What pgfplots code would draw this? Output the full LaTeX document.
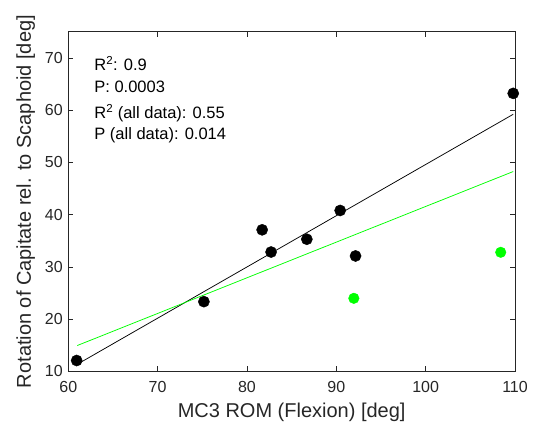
\documentclass[border=0pt]{standalone}
\usepackage{pgfplots}
\pgfplotsset{compat=1.18}
\usepackage{fontspec}
\setmainfont{Liberation Sans}
\definecolor{axgray}{gray}{0.15}
\definecolor{mgreen}{rgb}{0,1,0}

\begin{document}
\begin{tikzpicture}
\begin{axis}[
  name=ax,
  scale only axis,
  width=447pt, height=340pt,
  xmin=60, xmax=110, ymin=10, ymax=75,
  xtick={60,70,...,110}, ytick={10,20,...,70},
  tick align=inside,
  tick style={axgray, line width=0.6pt},
  major tick length=5pt,
  axis line style={axgray, line width=0.7pt},
  ticklabel style={font=\fontsize{16}{18}\selectfont, text=axgray},
  xticklabel style={yshift=-6pt},
  yticklabel style={xshift=-2pt},
  /pgf/number format/assume math mode=true,
  xlabel={MC3 ROM (Flexion) [deg]},
  ylabel={Rotation of Capitate rel. to Scaphoid [deg]},
  label style={font=\fontsize{20}{22}\selectfont, text=axgray},
  xlabel style={yshift=-4pt},
  ylabel style={yshift=3pt},
  clip=false,
]
% fit lines
\addplot[black, line width=0.75pt] coordinates {(61.1,11.47) (109.8,59.2)};
\addplot[mgreen, line width=0.75pt] coordinates {(61.0,14.96) (109.8,48.25)};
% data
\addplot[only marks, mark=*, mark size=5.6pt, black] coordinates {
  (60.94,12.1) (75.18,23.36) (81.7,37.1) (82.7,32.85)
  (86.7,35.3) (90.43,40.8) (92.15,32.1) (109.8,63.2)
};
\addplot[only marks, mark=*, mark size=5.3pt, mgreen, mark options={draw=mgreen, fill=mgreen}] coordinates {
  (91.96,24.0) (108.4,32.8)
};
\begin{scope}[every node/.style={anchor=west, inner sep=0pt, font=\fontsize{16.5}{19}\selectfont}]
\node at (axis cs:62.9,68.9) {R\textsuperscript{2}: 0.9};
\node at (axis cs:62.9,64.5) {P: 0.0003};
\node at (axis cs:62.9,59.4) {R\textsuperscript{2} (all data): 0.55};
\node at (axis cs:62.9,55.2) {P (all data): 0.014};
\end{scope}
\end{axis}
\path ([shift={(-68.3pt,-65.3pt)}]ax.south west) rectangle ([shift={(24pt,31.7pt)}]ax.north east);
\end{tikzpicture}
\end{document}
